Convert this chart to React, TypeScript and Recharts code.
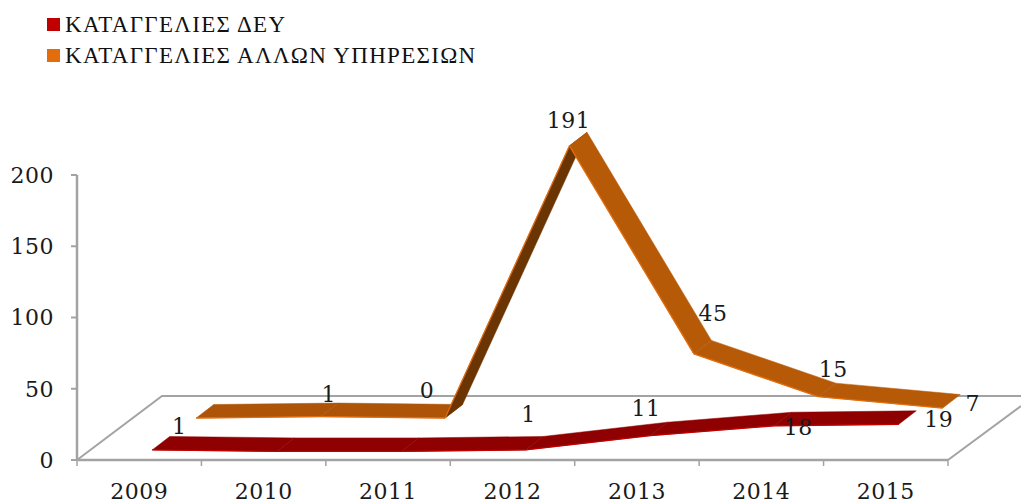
import React from "react";
import { ComposedChart, Line, XAxis, YAxis, Legend, LabelList } from "recharts";

const years = ["2009", "2010", "2011", "2012", "2013", "2014", "2015"];
const deyValues = [1, 0, 0, 1, 11, 18, 19];
const otherValues = [0, 1, 0, 191, 45, 15, 7];
const deyLabels = ["1", "", "", "1", "11", "18", "19"];
const otherLabels = ["", "1", "0", "191", "45", "15", "7"];
const deyName = "ΚΑΤΑΓΓΕΛΙΕΣ ΔΕΥ";
const otherName = "ΚΑΤΑΓΓΕΛΙΕΣ ΑΛΛΩΝ ΥΠΗΡΕΣΙΩΝ";
const yTicks = [0, 50, 100, 150, 200];

const rows = years.map((year, i) => ({ year, dey: deyValues[i], other: otherValues[i] }));

// styling and layout
const W = 1021;
const H = 499;
const PLOT = { left: 77, right: 948, top: 175, bottom: 460 };
const BAND = (PLOT.right - PLOT.left) / years.length;
const FONT = "'DejaVu Serif', serif";
const FONT_SIZE = 22;
const SPACING = 0.5;
const AXIS = "#A3A3A3";
const RIBBON_DEPTH = { x: 17.5, y: -13.5 };

const deyStyle = {
  shift: { x: 13, y: -8.6 },
  top: "#8F0000",
  flat: "#8F0000",
  dark: "#5E0000",
  edge: "#C00000",
  labelOffsets: [[40, -25], [0, 0], [0, 0], [16, -37], [9, -28], [37, 1], [53, -6]],
};
const otherStyle = {
  shift: { x: 57, y: -42 },
  top: "#B75A08",
  flat: "#AD5409",
  dark: "#6B3503",
  edge: "#E46C0A",
  labelOffsets: [[0, 0], [65, -57], [39, -62], [56, -60], [76, -75], [72, -62], [87, -39]],
};

function makeRibbon(style: typeof deyStyle) {
  return function RibbonSegment(props: any) {
    const { index, points } = props;
    const a = points?.[index];
    const b = points?.[index + 1];
    if (!a || !b) return <g key={index} />;
    const ax = a.x + style.shift.x;
    const ay = a.y + style.shift.y;
    const bx = b.x + style.shift.x;
    const by = b.y + style.shift.y;
    const slope = (ay - by) / (bx - ax);
    const fill = slope > 1 ? style.dark : Math.abs(slope) < 0.03 ? style.flat : style.top;
    const d = `M${ax},${ay} L${bx},${by} L${bx + RIBBON_DEPTH.x},${by + RIBBON_DEPTH.y} L${ax + RIBBON_DEPTH.x},${ay + RIBBON_DEPTH.y} Z`;
    return (
      <g key={index}>
        <path d={d} fill={fill} stroke={fill} strokeWidth={0.5} />
        <line x1={ax} y1={ay} x2={bx} y2={by} stroke={style.edge} strokeWidth={1.3} />
      </g>
    );
  };
}

function makeLabel(style: typeof deyStyle, texts: string[]) {
  return function SeriesLabel(props: any) {
    const { index, x, y } = props;
    const text = texts[index];
    if (!text) return null;
    const [dx, dy] = style.labelOffsets[index];
    return (
      <text x={x + dx} y={y + dy} textAnchor="middle" fontFamily={FONT} fontSize={FONT_SIZE} letterSpacing={SPACING} fill="#1a1a1a">
        {text}
      </text>
    );
  };
}

function XTick(props: any) {
  const { x, y, payload, index } = props;
  const left = x - BAND / 2;
  const right = x + BAND / 2;
  return (
    <g>
      <line x1={left} y1={PLOT.bottom} x2={left} y2={PLOT.bottom + 6} stroke={AXIS} strokeWidth={1.5} />
      {index === years.length - 1 && (
        <line x1={right} y1={PLOT.bottom} x2={right} y2={PLOT.bottom + 6} stroke={AXIS} strokeWidth={1.5} />
      )}
      <text x={x} y={y + 31} textAnchor="middle" fontFamily={FONT} fontSize={FONT_SIZE} letterSpacing={SPACING} fill="#1a1a1a">
        {payload.value}
      </text>
    </g>
  );
}

function LegendBlock() {
  const items = [
    { name: deyName, color: "#C00000" },
    { name: otherName, color: "#E46C0A" },
  ];
  return (
    <div style={{ position: "absolute", left: 47, top: 9 }}>
      {items.map((it) => (
        <div key={it.name} style={{ display: "flex", alignItems: "center", height: 31, whiteSpace: "nowrap" }}>
          <span style={{ width: 13, height: 13, background: it.color, marginRight: 5, display: "inline-block" }} />
          <span style={{ fontFamily: "'Liberation Serif', serif", fontSize: 23, letterSpacing: 1.3, color: "#111" }}>{it.name}</span>
        </div>
      ))}
    </div>
  );
}

export default function App() {
  return (
    <div style={{ position: "absolute", left: 0, top: 0, width: W, height: H }}>
      <ComposedChart
        width={W}
        height={H}
        data={rows}
        margin={{ top: PLOT.top, right: W - PLOT.right, bottom: 0, left: 0 }}
      >
        <Legend content={() => <LegendBlock />} wrapperStyle={{ position: "absolute", left: 0, top: 0, width: 0, height: 0 }} />
        <path
          d={`M${PLOT.left},${PLOT.bottom} L162,396 L${W},396 M${PLOT.right},${PLOT.bottom} L${W},406`}
          fill="none"
          stroke={AXIS}
          strokeWidth={2}
        />
        <XAxis
          dataKey="year"
          scale="band"
          height={H - PLOT.bottom}
          interval={0}
          tickLine={false}
          axisLine={{ stroke: AXIS, strokeWidth: 2.5 }}
          tick={<XTick />}
        />
        <YAxis
          domain={[0, 200]}
          ticks={yTicks}
          width={PLOT.left}
          tickSize={6}
          tickMargin={17}
          axisLine={{ stroke: AXIS, strokeWidth: 2.5 }}
          tickLine={{ stroke: AXIS, strokeWidth: 2 }}
          tick={{ fontFamily: FONT, fontSize: FONT_SIZE, letterSpacing: SPACING, fill: "#1a1a1a" }}
        />
        <Line
          dataKey="other"
          name={otherName}
          stroke="none"
          isAnimationActive={false}
          dot={makeRibbon(otherStyle)}
          activeDot={false}
        >
          <LabelList content={makeLabel(otherStyle, otherLabels)} />
        </Line>
        <Line
          dataKey="dey"
          name={deyName}
          stroke="none"
          isAnimationActive={false}
          dot={makeRibbon(deyStyle)}
          activeDot={false}
        >
          <LabelList content={makeLabel(deyStyle, deyLabels)} />
        </Line>
      </ComposedChart>
    </div>
  );
}
